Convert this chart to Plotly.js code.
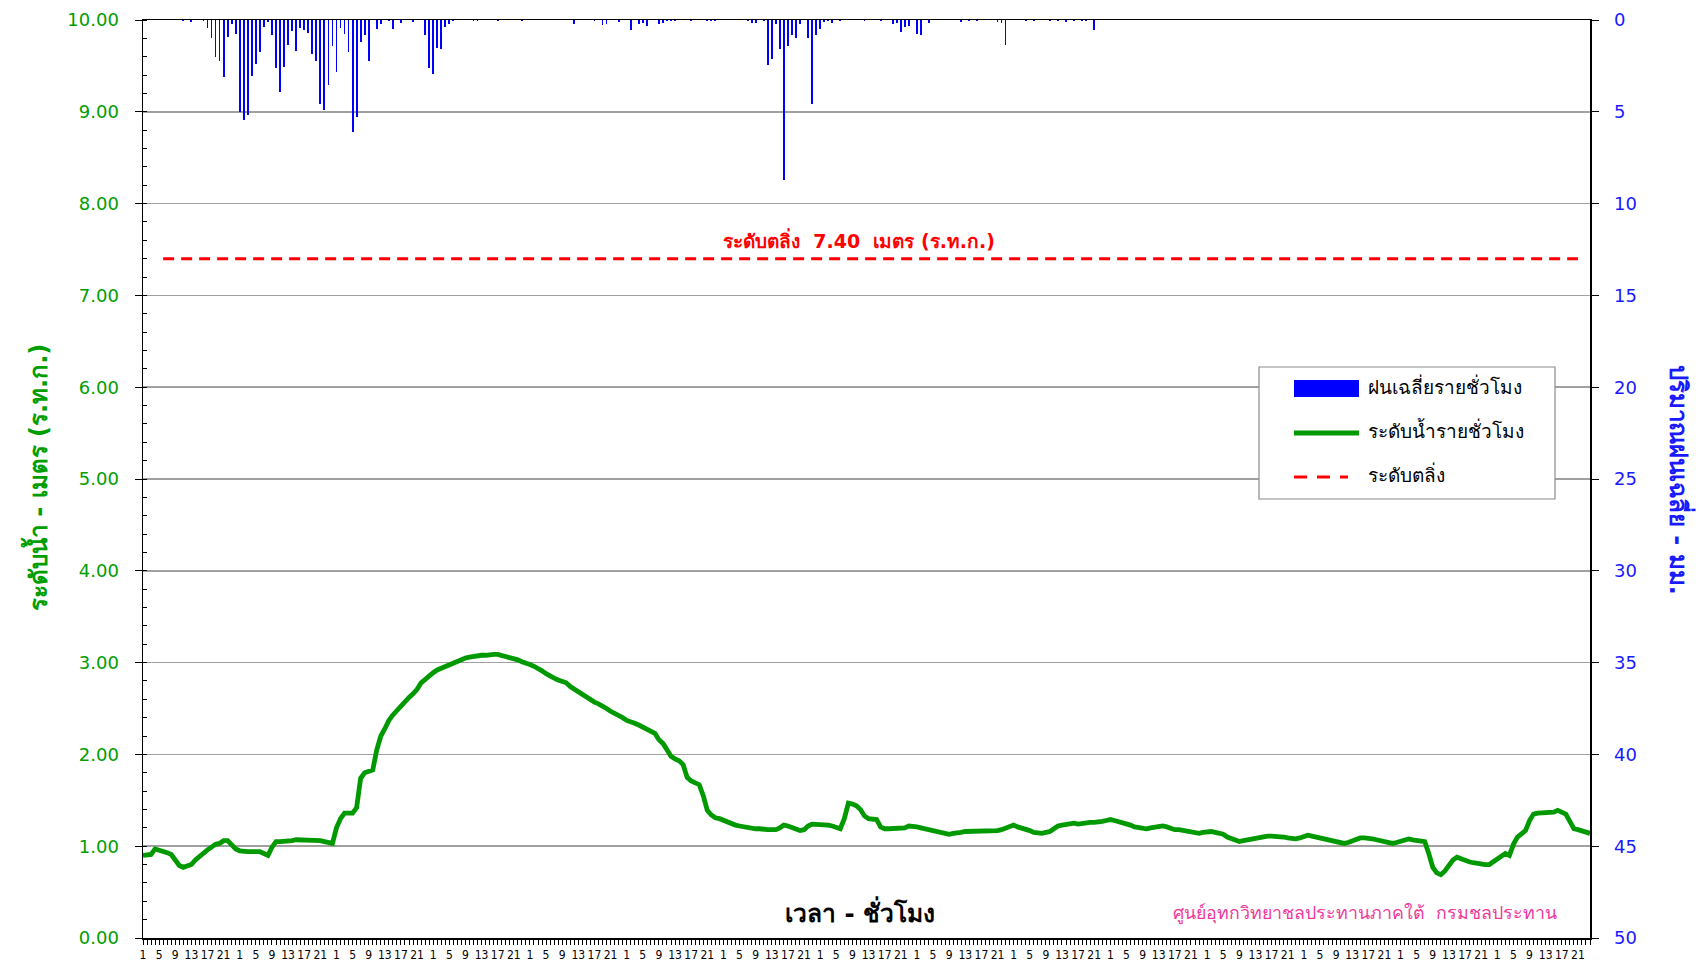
<!DOCTYPE html>
<html><head><meta charset="utf-8">
<script src="https://cdn.plot.ly/plotly-3.0.1.min.js"></script>
<style>html,body{margin:0;padding:0;background:#fff}#chart{width:1704px;height:962px}</style>
</head><body><div id="chart"></div><script>
// ---- data ----
const dayTickLabels = ['1','5','9','13','17','21'];
const waterLevel = [
0.90,0.90,0.91,0.97,0.96,0.94,0.93,0.91,0.85,0.79,0.77,0.78,0.80,0.85,0.89,0.92,0.96,0.99,1.02,1.03,1.06,1.06,1.01,0.97,
0.95,0.94,0.94,0.94,0.94,0.94,0.92,0.90,0.99,1.05,1.05,1.05,1.05,1.06,1.07,1.07,1.07,1.07,1.07,1.07,1.06,1.05,1.04,1.03,
1.20,1.30,1.36,1.36,1.36,1.42,1.74,1.80,1.82,1.83,2.05,2.20,2.28,2.37,2.43,2.48,2.53,2.57,2.62,2.66,2.71,2.78,2.82,2.86,
2.89,2.92,2.94,2.96,2.97,2.99,3.01,3.03,3.05,3.06,3.07,3.07,3.08,3.08,3.09,3.09,3.09,3.08,3.07,3.05,3.04,3.03,3.01,3.00,
2.98,2.96,2.94,2.91,2.88,2.85,2.83,2.81,2.80,2.78,2.74,2.71,2.68,2.66,2.63,2.60,2.57,2.55,2.53,2.50,2.47,2.45,2.42,2.40,
2.37,2.36,2.34,2.32,2.30,2.28,2.26,2.23,2.16,2.12,2.05,1.98,1.95,1.93,1.89,1.75,1.71,1.69,1.67,1.55,1.39,1.34,1.31,1.30,
1.28,1.27,1.25,1.23,1.22,1.21,1.20,1.20,1.19,1.19,1.18,1.18,1.18,1.18,1.20,1.23,1.22,1.20,1.18,1.17,1.18,1.22,1.24,1.24,
1.24,1.24,1.23,1.22,1.20,1.19,1.30,1.47,1.46,1.44,1.40,1.33,1.30,1.29,1.29,1.21,1.19,1.19,1.19,1.19,1.19,1.20,1.22,1.22,
1.21,1.20,1.19,1.18,1.16,1.15,1.14,1.13,1.13,1.14,1.14,1.15,1.16,1.16,1.17,1.17,1.17,1.16,1.16,1.16,1.17,1.18,1.20,1.22,
1.23,1.21,1.20,1.19,1.17,1.15,1.14,1.14,1.15,1.16,1.19,1.22,1.23,1.24,1.24,1.25,1.24,1.25,1.25,1.26,1.26,1.26,1.27,1.28,
1.29,1.28,1.27,1.26,1.25,1.23,1.21,1.20,1.19,1.19,1.20,1.21,1.22,1.22,1.21,1.19,1.18,1.18,1.17,1.16,1.15,1.14,1.14,1.15,
1.16,1.16,1.15,1.14,1.13,1.10,1.08,1.06,1.05,1.06,1.07,1.08,1.09,1.10,1.11,1.11,1.11,1.11,1.11,1.10,1.09,1.08,1.08,1.09,
1.11,1.12,1.11,1.10,1.09,1.08,1.07,1.06,1.04,1.03,1.03,1.04,1.06,1.08,1.09,1.09,1.09,1.08,1.07,1.06,1.05,1.03,1.03,1.04,
1.05,1.07,1.08,1.07,1.06,1.06,1.05,0.92,0.77,0.71,0.69,0.73,0.79,0.85,0.88,0.86,0.84,0.83,0.82,0.81,0.80,0.80,0.80,0.83,
0.86,0.90,0.92,0.90,1.02,1.10,1.14,1.17,1.28,1.35,1.36,1.36,1.36,1.37,1.37,1.39,1.37,1.35,1.27,1.19,1.18,1.17,1.15,1.14
];
const rainfall = [
0,0,0,0,0,0,0,0,0,0,0.05,0,0.1,0,0,0.05,0.44,0.98,2.0,2.25,3.1,0.9,0.22,0.76,
5.0,5.47,5.18,3.05,2.38,1.75,0.36,0.1,0.84,2.64,3.93,2.55,1.36,0.6,1.69,0.44,0.55,0.71,1.84,2.24,4.55,4.89,3.56,1.4,
2.82,0.45,0.75,1.75,6.09,5.31,1.2,0.82,2.22,0,0.51,0.22,0,0.07,0.49,0,0.15,0,0,0.09,0,0,0.8,2.6,
2.95,1.55,1.58,0.36,0.24,0.07,0,0,0,0,0.07,0.04,0,0,0,0,0.07,0,0,0,0,0,0.05,0,
0,0,0,0,0,0,0,0,0,0,0,0.22,0,0,0,0,0.08,0,0.27,0.23,0,0,0.1,0,
0,0.54,0,0.2,0.16,0.33,0,0,0.2,0.18,0.07,0.07,0.04,0,0,0,0.04,0,0,0,0.08,0.08,0.03,0,
0,0,0,0,0,0,0.04,0.18,0.15,0,0.04,2.44,2.1,0.22,1.6,8.7,1.44,0.8,0.98,0.22,0,0.96,4.55,0.8,
0.47,0.1,0.04,0.15,0,0.07,0,0,0,0,0,0.04,0,0,0,0.07,0,0,0.2,0.15,0.64,0.36,0.33,0,
0.75,0.84,0,0.15,0,0,0,0,0,0,0,0.09,0,0.03,0,0.03,0,0,0,0,0.13,0.18,1.35,0,
0,0,0,0.07,0,0.07,0,0,0,0.04,0,0.04,0,0.09,0,0.07,0,0.07,0.03,0,0.55,0,0,0,
0,0,0,0,0,0,0,0,0,0,0,0,0,0,0,0,0,0,0,0,0,0,0,0,
0,0,0,0,0,0,0,0,0,0,0,0,0,0,0,0,0,0,0,0,0,0,0,0,
0,0,0,0,0,0,0,0,0,0,0,0,0,0,0,0,0,0,0,0,0,0,0,0,
0,0,0,0,0,0,0,0,0,0,0,0,0,0,0,0,0,0,0,0,0,0,0,0,
0,0,0,0,0,0,0,0,0,0,0,0,0,0,0,0,0,0,0,0,0,0,0,0
];
const bankLevel = 7.40;
const bankSpan = [5, 356];
const seriesNames = ['ฝนเฉลี่ยรายชั่วโมง','ระดับน้ำรายชั่วโมง','ระดับตลิ่ง'];

// ---- derived ----
const hours = waterLevel.map((_, i) => i);
const xTickText = hours.map(i => { const hd = i % 24; return hd % 4 === 0 ? dayTickLabels[hd / 4] : ''; });

const THAI = 'Tahoma, "DejaVu Sans", "Noto Sans", sans-serif';
const traces = [
  {type:'bar', x:hours, y:rainfall, yaxis:'y2', width:0.45, marker:{color:'#0000ff', line:{width:0}}, name:seriesNames[0], hoverinfo:'skip'},
  {type:'scatter', mode:'lines', x:hours, y:waterLevel, line:{color:'#009900', width:4.8}, name:seriesNames[1]},
  {type:'scatter', mode:'lines', x:bankSpan, y:[bankLevel, bankLevel], line:{color:'#ff0000', width:3, dash:'11px,7px'}, name:seriesNames[2]}
];

const px = X => (X - 143) / 1447;
const py = Y => (938 - Y) / 918;
const ann = (X, Y, text, font, extra) => Object.assign({xref:'paper', yref:'paper', x:px(X), y:py(Y), text, showarrow:false,
  xanchor:'center', yanchor:'middle', font}, extra || {});

const layout = {
  width:1704, height:962,
  margin:{l:143, r:114, t:20, b:24, pad:0},
  paper_bgcolor:'#ffffff', plot_bgcolor:'#ffffff',
  showlegend:false, bargap:0,
  xaxis:{range:[0,359], tickmode:'array', tickvals:hours, ticktext:xTickText, ticks:'outside', ticklen:5, tickwidth:1, tickcolor:'#000',
    showline:true, linecolor:'#000', linewidth:1.5, mirror:true, showgrid:false, zeroline:false, tickangle:0,
    tickfont:{family:'"DejaVu Sans Condensed", "DejaVu Sans", sans-serif', size:12, color:'#000'}},
  yaxis:{range:[0,10], tickmode:'linear', tick0:0, dtick:1, tickformat:'.2f', ticks:'outside', ticklen:7, tickcolor:'#000',
    showline:true, linecolor:'#000', linewidth:1.5, gridcolor:'#a0a0a0', gridwidth:1.5, zeroline:false,
    tickfont:{family:'"DejaVu Sans", sans-serif', size:18, color:'#009e00'}, ticklabelstandoff:12,
    minor:{dtick:0.2, ticks:'inside', ticklen:4, tickcolor:'#000', showgrid:false}},
  yaxis2:{overlaying:'y', side:'right', range:[50,0], tickmode:'linear', tick0:0, dtick:5, ticks:'outside', ticklen:7, tickcolor:'#000',
    showline:true, linecolor:'#000', linewidth:1.5, showgrid:false, zeroline:false,
    tickfont:{family:'"DejaVu Sans", sans-serif', size:18, color:'#1a1aff'}, ticklabelstandoff:12},
  shapes:[
    {type:'rect', xref:'paper', yref:'paper', x0:px(1259), x1:px(1555), y0:py(499), y1:py(367), fillcolor:'#ffffff', line:{color:'#8c8c8c', width:1.2}, layer:'above'},
    {type:'rect', xref:'paper', yref:'paper', x0:px(1294), x1:px(1359), y0:py(397), y1:py(380), fillcolor:'#0000ff', line:{width:0}, layer:'above'},
    {type:'line', xref:'paper', yref:'paper', x0:px(1294), x1:px(1359), y0:py(433), y1:py(433), line:{color:'#009900', width:4.8}, layer:'above'},
    {type:'line', xref:'paper', yref:'paper', x0:px(1294), x1:px(1348), y0:py(477), y1:py(477), line:{color:'#ff0000', width:3, dash:'13px,10px'}, layer:'above'}
  ],
  annotations:[
    ann(36, 478, '<b>ระดับน้ำ - เมตร (ร.ท.ก.)</b>', {family:THAI, size:24, color:'#009e00'}, {textangle:-90}),
    ann(1680, 480, '<b>ปริมาณฝนเฉลี่ย - มม.</b>', {family:THAI, size:24, color:'#1a1aff'}, {textangle:90}),
    ann(859, 240, '<b>ระดับตลิ่ง  ' + bankLevel.toFixed(2) + '  เมตร (ร.ท.ก.)</b>', {family:THAI, size:19, color:'#ff0000'}),
    ann(860, 912, '<b>เวลา - ชั่วโมง</b>', {family:THAI, size:24.5, color:'#000'}),
    ann(1365, 913, 'ศูนย์อุทกวิทยาชลประทานภาคใต้  กรมชลประทาน', {family:THAI, size:17.8, color:'#f0379b'}),
    ann(1366, 386, seriesNames[0], {family:THAI, size:19, color:'#000'}, {xanchor:'left'}),
    ann(1366, 430, seriesNames[1], {family:THAI, size:19, color:'#000'}, {xanchor:'left'}),
    ann(1366, 474, seriesNames[2], {family:THAI, size:19, color:'#000'}, {xanchor:'left'})
  ]
};
Plotly.newPlot('chart', traces, layout, {staticPlot:true, displayModeBar:false});
</script></body></html>
